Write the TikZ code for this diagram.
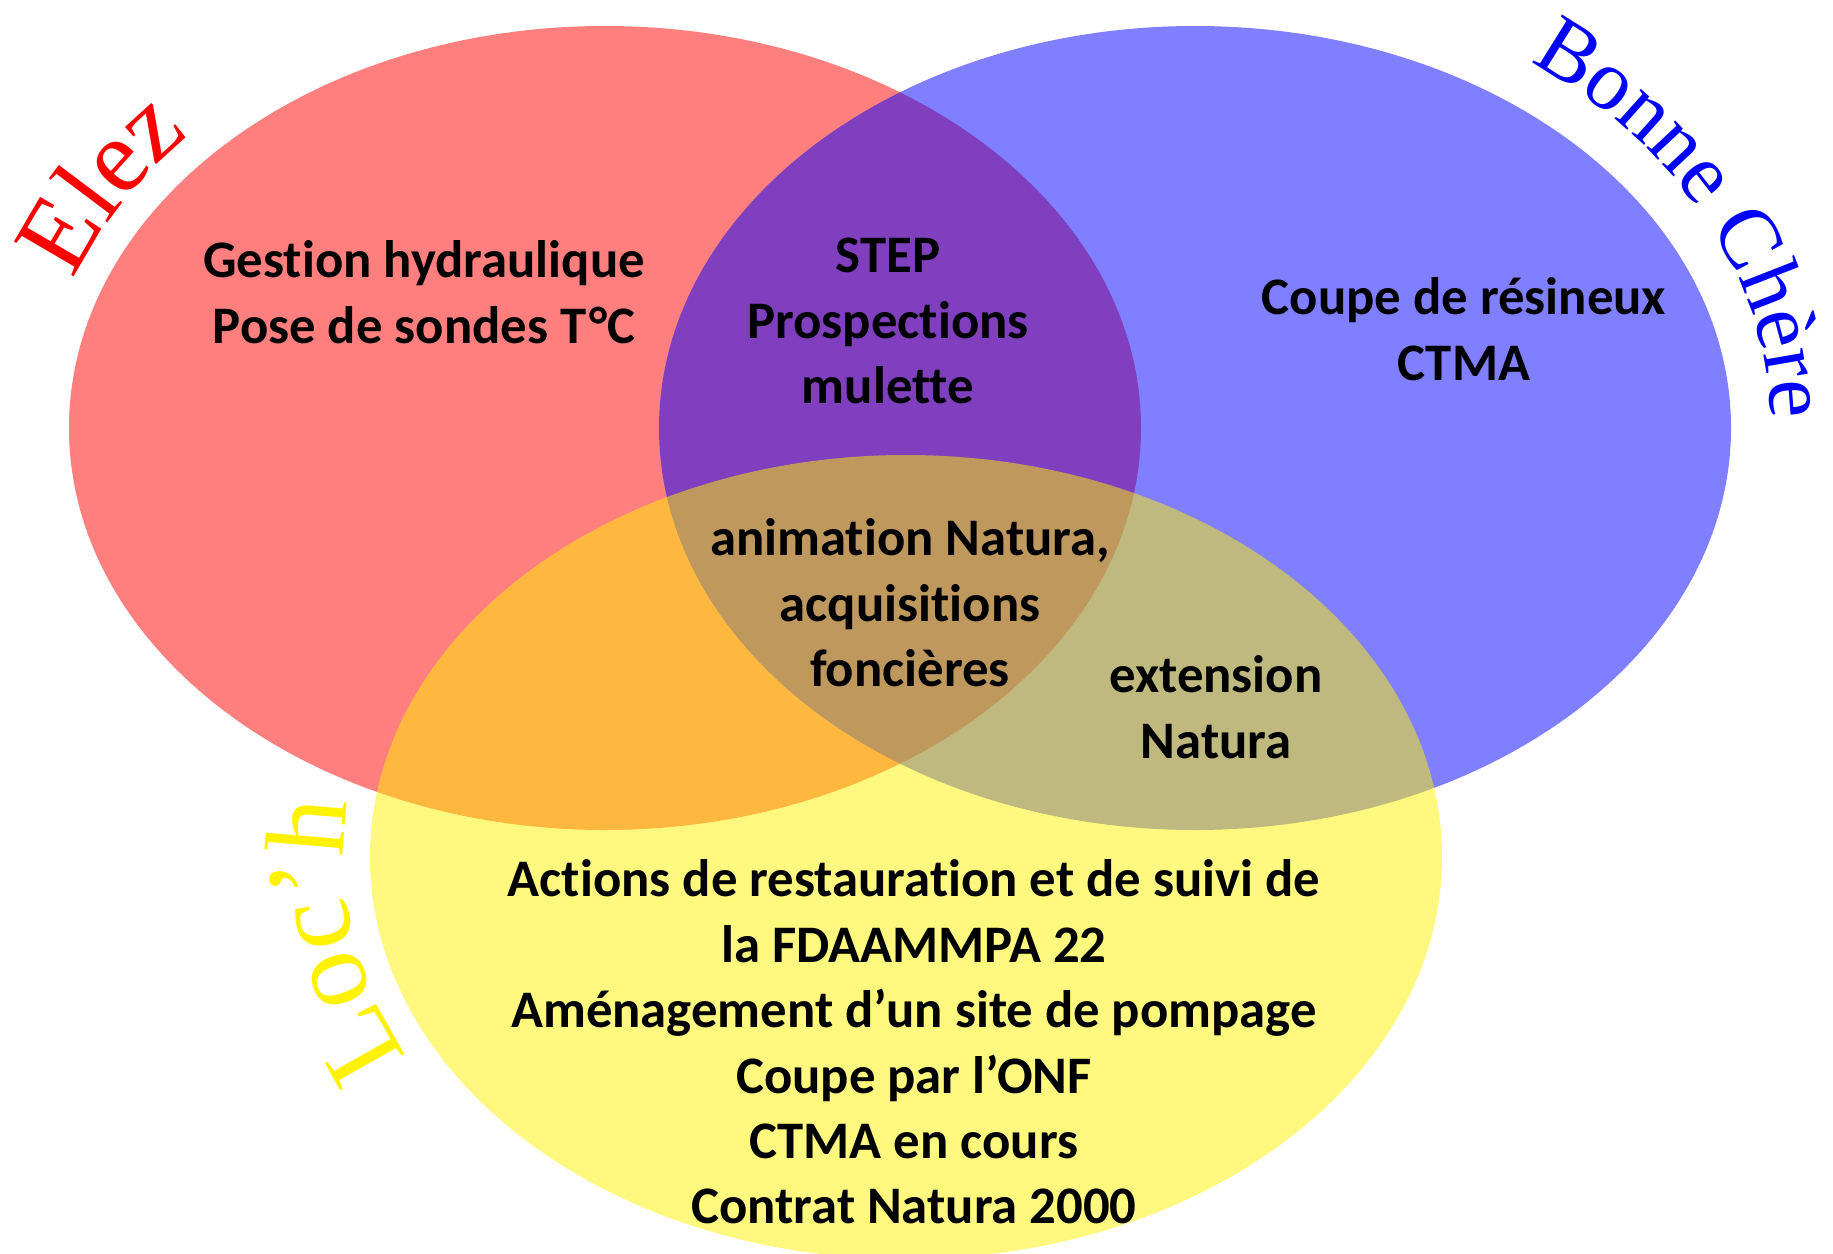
\documentclass[tikz,border=0pt]{standalone}
\usepackage{fontspec}
\setmainfont{Liberation Serif}
\newfontfamily\calib[Ligatures=NoCommon]{Carlito}
\usepackage{tikz}
\usetikzlibrary{calc, decorations.text}

\begin{document}
\begin{tikzpicture}[x=0.01cm, y=0.01cm,
    zone/.style={fill opacity=0.5},
    txt/.style={font=\calib\bfseries\fontsize{15}{18.6}\selectfont, align=center, text=black, inner sep=0pt},
    lbl/.style={decorate, decoration={text along path, text align=center, text={#1}}}]
    \useasboundingbox (0, 0) rectangle (1833, 1253);
    \coordinate (elez) at (605, 825);
    \coordinate (bonne) at (1195, 825);
    \coordinate (loch) at (906, 396);
    \fill[red, zone] (elez) ellipse [x radius=536, y radius=402];
    \fill[blue, zone] (bonne) ellipse [x radius=536, y radius=402];
    \fill[yellow, zone] (loch) ellipse [x radius=536, y radius=402];
    \path[lbl={|\fontsize{30}{30}\selectfont\color{red}|Elez}]
        ($(elez)+(166:565 and 432)$) arc [start angle=166, end angle=132, x radius=565, y radius=432];
    \path[lbl={|\fontsize{24.5}{24.5}\selectfont\color{blue}|Bonne Chère}]
        ($(bonne)+(57:576 and 450)$) arc [start angle=57, end angle=-2, x radius=576, y radius=450];
    \path[lbl={|\fontsize{32}{32}\selectfont\color{yellow}|Loc’h}]
        ($(loch)+(211:562 and 430)$) arc [start angle=211, end angle=169, x radius=562, y radius=430];
    \node[txt] (hydro) at (424, 961) {Gestion hydraulique\\Pose de sondes T\kern0.8pt°C};
    \node[txt] (step) at (888, 932) {STEP\\Prospections\\mulette};
    \node[txt] (coupe) at (1464, 924) {Coupe de résineux\\CTMA};
    \node[txt] (anim) at (910, 650) {animation Natura,\\acquisitions\\foncières};
    \node[txt] (ext) at (1216, 546) {extension\\Natura};
    \node[txt] (actions) at (914, 211) {Actions de restauration et de suivi de\\la FDAAMMPA 22\\Aménagement d’un site de pompage\\Coupe par l’ONF\\CTMA en cours\\Contrat Natura 2000};
\end{tikzpicture}
\end{document}
